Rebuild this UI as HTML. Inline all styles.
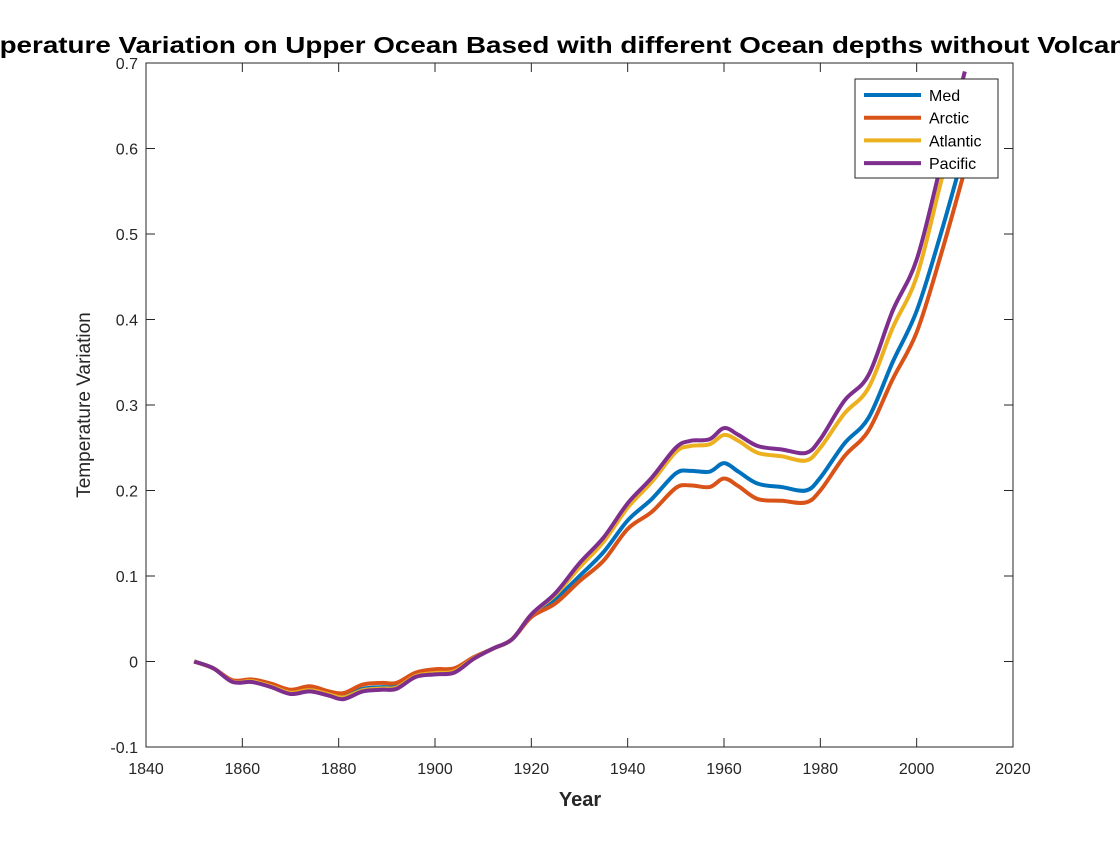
<!DOCTYPE html>
<html><head><meta charset="utf-8"><style>
body{margin:0;background:#fff;width:1120px;height:840px;overflow:hidden}
svg text{font-family:"Liberation Sans",Arial,sans-serif}
</style></head><body>
<svg id="chart" width="1120" height="840">
<text x="547" y="53" text-anchor="middle" font-size="23" font-weight="bold" fill="#000" textLength="1205" lengthAdjust="spacingAndGlyphs">Temperature Variation on Upper Ocean Based with different Ocean depths without Volcanic</text>
<g id="axes"></g><g id="lines"></g>
<text x="580" y="806" text-anchor="middle" font-size="20" font-weight="bold" fill="#262626">Year</text>
<text transform="translate(90,405) rotate(-90)" text-anchor="middle" font-size="19" fill="#262626">Temperature Variation</text>
<g>
<rect x="855" y="79" width="143" height="99" fill="#fff" stroke="#262626" stroke-width="1"/>
<g id="legend"></g></g>
</svg>
<script>
const years=[1850,1854,1858,1862,1866,1870,1874,1878,1881,1885,1889,1892,1896,1900,1904,1908,1912,1916,1920,1925,1930,1935,1940,1945,1950,1953,1957,1960,1963,1967,1972,1977,1980,1985,1990,1995,2000,2005,2010];
const early=[0,-0.008,-0.024,-0.024,-0.03,-0.038,-0.035,-0.04,-0.044,-0.035,-0.033,-0.032,-0.018,-0.015,-0.013,0.003,0.015,0.026];
const pacificLate=[0.055,0.08,0.115,0.145,0.185,0.215,0.25,0.258,0.26,0.273,0.265,0.252,0.248,0.244,0.26,0.305,0.335,0.41,0.47,0.58,0.69];
const atlanticLate=[0.055,0.078,0.11,0.14,0.18,0.21,0.245,0.252,0.254,0.265,0.258,0.244,0.24,0.235,0.25,0.29,0.32,0.39,0.45,0.56,0.67];
const medLate=[0.053,0.073,0.1,0.128,0.165,0.19,0.22,0.223,0.222,0.232,0.222,0.208,0.204,0.2,0.215,0.255,0.285,0.35,0.41,0.5,0.6];
const arcticLate=[0.052,0.068,0.094,0.118,0.155,0.175,0.203,0.206,0.204,0.214,0.205,0.19,0.188,0.186,0.2,0.24,0.27,0.33,0.385,0.475,0.575];
const medEarlyOffset=[0,0,0.001,0.002,0.002,0.003,0.003,0.003,0.004,0.003,0.003,0.003,0.002,0.003,0.003,0.001,0,0];
const arcticEarlyOffset=[0,0,0.002,0.003,0.004,0.005,0.006,0.005,0.007,0.008,0.008,0.007,0.005,0.006,0.005,0.002,0,0];
const xTicks=[1840,1860,1880,1900,1920,1940,1960,1980,2000,2020];
const yTicks=[-0.1,0,0.1,0.2,0.3,0.4,0.5,0.6,0.7];
const seriesNames=['Med','Arctic','Atlantic','Pacific'];
const colors=['#0072BD','#D95319','#EDB120','#7E2F8E'];
const pacific=early.concat(pacificLate);
const atlantic=early.map((v,i)=>v+medEarlyOffset[i]*0.5).concat(atlanticLate);
const med=early.map((v,i)=>v+medEarlyOffset[i]).concat(medLate);
const arctic=early.map((v,i)=>v+arcticEarlyOffset[i]).concat(arcticLate);
const series=[med,arctic,atlantic,pacific];
const L=146,R=1013,T=63,B=747;
const xs=v=>L+(v-1840)/180*(R-L);
const ys=v=>B-(v+0.1)/0.8*(B-T);
const NS='http://www.w3.org/2000/svg';
function mk(t,a,p){const e=document.createElementNS(NS,t);for(const k in a)e.setAttribute(k,a[k]);p.appendChild(e);return e;}
const ax=document.getElementById('axes');
const box=mk('rect',{x:L,y:T,width:R-L,height:B-T,fill:'none',stroke:'#262626','stroke-width':1},ax);


xTicks.forEach(t=>{const x=xs(t);
mk('line',{x1:x,x2:x,y1:B,y2:B-9,stroke:'#262626'},ax);mk('line',{x1:x,x2:x,y1:T,y2:T+9,stroke:'#262626'},ax);
const tx=mk('text',{x:x,y:B+27,'text-anchor':'middle','font-size':16,fill:'#262626'},ax);tx.textContent=t;

});
yTicks.forEach(t=>{const y=ys(t);
mk('line',{x1:L,x2:L+9,y1:y,y2:y,stroke:'#262626'},ax);mk('line',{x1:R,x2:R-9,y1:y,y2:y,stroke:'#262626'},ax);
const tx=mk('text',{x:L-8,y:y+6,'text-anchor':'end','font-size':16,fill:'#262626'},ax);tx.textContent=(Math.round(t*10)/10).toString();

});
const defs=mk('defs',{},document.getElementById('chart'));
const cp=mk('clipPath',{id:'clip'},defs);mk('rect',{x:L,y:T,width:R-L,height:B-T},cp);
const lg=document.getElementById('lines');lg.setAttribute('clip-path','url(#clip)');
function path(vals){const p=years.map((y,i)=>[xs(y),ys(vals[i])]);let d='M'+p[0][0]+','+p[0][1];
for(let i=0;i<p.length-1;i++){const p0=p[Math.max(0,i-1)],p1=p[i],p2=p[i+1],p3=p[Math.min(p.length-1,i+2)];
d+=' C'+(p1[0]+(p2[0]-p0[0])/6)+','+(p1[1]+(p2[1]-p0[1])/6)+' '+(p2[0]-(p3[0]-p1[0])/6)+','+(p2[1]-(p3[1]-p1[1])/6)+' '+p2[0]+','+p2[1];}return d;}
series.forEach((s,i)=>{const pe=mk('path',{d:path(s),fill:'none',stroke:colors[i],'stroke-width':4,'stroke-linejoin':'round'},lg);

});
const leg=document.getElementById('legend');
seriesNames.forEach((n,i)=>{const y=95+i*22.7;
mk('line',{x1:864,x2:921,y1:y,y2:y,stroke:colors[i],'stroke-width':4},leg);
const tx=mk('text',{x:929,y:y+6,'font-size':16,fill:'#000'},leg);tx.textContent=n;

});
</script>
</body></html>
